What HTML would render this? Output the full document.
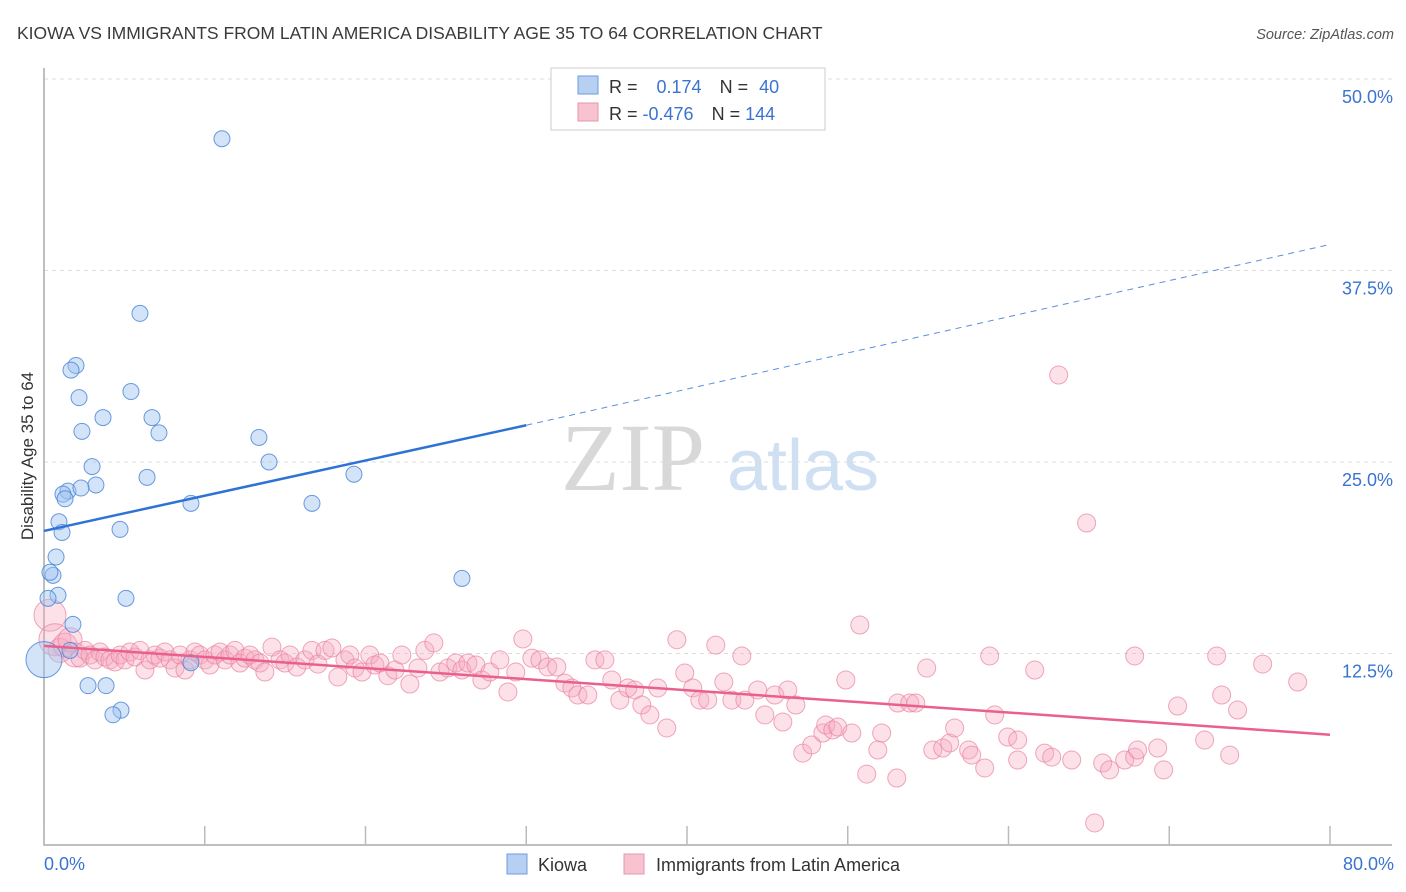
<!DOCTYPE html>
<html><head><meta charset="utf-8">
<style>
body{margin:0;background:#fff;font-family:"Liberation Sans",sans-serif;}
#wrap{position:relative;width:1406px;height:892px;overflow:hidden;}
</style></head>
<body>
<div id="wrap">
<svg id="chart" width="1406" height="892">
<text x="17" y="39" font-size="17.5" fill="#3a3a3a">KIOWA VS IMMIGRANTS FROM LATIN AMERICA DISABILITY AGE 35 TO 64 CORRELATION CHART</text>
<text x="1394" y="39" font-size="14.5" fill="#555" font-style="italic" text-anchor="end">Source: ZipAtlas.com</text>
<g><text x="633" y="490" font-size="96" font-family="Liberation Serif,serif" fill="#d8d8d8" text-anchor="middle">ZIP</text><text x="803" y="490" font-size="72" fill="#cfe0f3" text-anchor="middle">atlas</text></g>
<g id="grid"></g><g id="axes"></g><g id="pts"></g><g id="lines"></g>
<text transform="translate(33,456) rotate(-90)" font-size="17" fill="#333" text-anchor="middle">Disability Age 35 to 64</text>
<g>
<rect x="551" y="68" width="274" height="62" fill="#fff" stroke="#ccc"/>
<rect x="578" y="76" width="20" height="18" fill="#b7d0f2" stroke="#6c9be0"/>
<rect x="578" y="103" width="20" height="18" fill="#f7c3d1" stroke="#ea94ad"/>
<text x="609" y="93" font-size="18" fill="#333">R = <tspan fill="#3a74d0" dx="14">0.174</tspan><tspan dx="18" fill="#333">N = </tspan><tspan fill="#3a74d0" dx="6">40</tspan></text>
<text x="609" y="120" font-size="18" fill="#333">R = <tspan fill="#3a74d0">-0.476</tspan><tspan dx="18" fill="#333">N = </tspan><tspan fill="#3a74d0">144</tspan></text>
</g>
<g>
<rect x="507" y="854" width="20" height="20" fill="#b7d0f2" stroke="#6c9be0"/>
<text x="538" y="871" font-size="18" fill="#333">Kiowa</text>
<rect x="624" y="854" width="20" height="20" fill="#f7c3d1" stroke="#ea94ad"/>
<text x="656" y="871" font-size="18" fill="#333">Immigrants from Latin America</text>
</g>
</svg>
</div>
<script>
const yTicks=[12.5,25,37.5,50];
const yTickLabels=["12.5%","25.0%","37.5%","50.0%"];
const xTickVals=[0,10,20,30,40,50,60,70,80];
const kiowaX=[11.07,5.97,1.99,1.68,5.41,2.18,3.67,6.72,2.36,7.15,13.37,14.0,2.99,6.41,19.28,1.49,1.18,3.23,2.3,1.31,9.14,16.67,0.93,4.73,1.12,0.75,0.56,0.37,0.87,0.25,5.1,26.0,1.8,1.62,2.74,3.86,4.79,4.29,9.14,0];
const kiowaY=[46.1,34.7,31.3,31.0,29.6,29.2,27.9,27.9,27.0,26.9,26.6,25.0,24.7,24.0,24.2,23.1,22.9,23.5,23.3,22.6,22.3,22.3,21.1,20.6,20.4,18.8,17.6,17.8,16.3,16.1,16.1,17.4,14.4,12.7,10.4,10.4,8.8,8.5,11.9,12.1];
const latinX=[0.37,0.68,1.0,1.31,1.62,1.93,2.24,2.55,2.86,3.17,3.48,3.79,4.1,4.42,4.73,5.04,5.35,5.66,5.97,6.28,6.59,6.9,7.21,7.52,7.84,8.15,8.46,8.77,9.08,9.39,9.7,10.01,10.32,10.63,10.95,11.26,11.57,11.88,12.19,12.5,12.81,13.12,13.43,13.74,14.18,14.68,14.99,15.3,15.73,16.23,16.67,17.04,17.48,17.91,18.28,18.72,19.03,19.34,19.78,20.27,20.58,20.9,21.39,21.83,22.26,22.76,23.26,23.69,24.25,24.63,25.12,25.62,26.0,26.37,26.87,27.24,27.74,28.36,28.86,29.35,29.79,30.35,30.85,31.34,31.9,32.4,32.84,33.21,33.83,34.27,34.89,35.32,35.82,36.32,36.75,37.19,37.69,38.18,38.74,39.37,39.86,40.36,40.8,41.29,41.79,42.29,42.79,43.41,43.6,44.4,44.84,45.46,45.96,46.27,46.77,47.2,47.76,48.45,48.63,49.07,49.38,49.88,50.25,50.75,51.18,51.87,52.11,53.05,53.11,53.86,54.23,54.91,55.29,55.91,56.34,56.65,57.52,57.71,58.52,58.83,59.14,59.95,60.57,60.57,61.63,62.25,62.69,63.12,63.93,64.86,65.36,65.86,66.29,67.23,67.85,68.03,67.85,69.28,69.65,70.52,72.2,72.95,73.26,73.76,74.25,75.81,77.99];
const latinY=[15.0,13.4,12.7,13.05,13.4,12.4,12.2,12.7,12.4,12.08,12.6,12.27,12.08,11.95,12.4,12.08,12.6,12.27,12.7,11.42,12.08,12.4,12.2,12.6,12.08,11.55,12.4,11.42,12.08,12.6,12.4,12.08,11.75,12.4,12.6,12.08,12.4,12.7,11.88,12.2,12.4,12.08,11.88,11.29,12.92,12.08,11.88,12.4,11.62,12.08,12.7,11.81,12.7,12.86,10.97,12.08,12.4,11.55,11.29,12.4,11.75,11.88,11.05,11.42,12.4,10.51,11.55,12.7,13.19,11.29,11.55,11.88,11.42,11.88,11.75,10.77,11.29,12.08,9.99,11.29,13.45,12.2,12.08,11.62,11.62,10.57,10.25,9.79,9.79,12.08,12.08,10.77,9.46,10.25,10.12,9.14,8.49,10.25,7.64,13.4,11.23,10.25,9.46,9.46,13.05,10.64,9.46,12.34,9.46,10.12,8.49,9.79,8.03,10.12,9.14,6.0,6.53,7.31,7.83,7.51,7.7,10.77,7.31,14.36,4.63,6.2,7.31,4.37,9.27,9.27,9.27,11.55,6.2,6.33,6.66,7.64,6.2,5.87,5.03,12.34,8.49,7.05,5.55,6.85,11.42,6.0,5.74,30.68,5.55,21.02,1.44,5.35,4.9,5.55,5.74,6.2,12.34,6.33,4.9,9.07,6.85,12.34,9.79,5.87,8.81,11.81,10.64];
const kiowaTrend=[[0,20.5],[30,27.4],[80,39.2]];
const latinTrend=[[0,13.0],[80,7.2]];
const NS='http://www.w3.org/2000/svg';
const X0=44,X1=1330,Y0=845,PPU=15.32;
const xs=v=>X0+(v/80)*(X1-X0);
const ys=v=>Y0-v*PPU;
function mk(tag,attrs,parent){const e=document.createElementNS(NS,tag);for(const k in attrs)e.setAttribute(k,attrs[k]);parent.appendChild(e);return e;}
const grid=document.getElementById('grid'),axes=document.getElementById('axes'),pts=document.getElementById('pts'),lines=document.getElementById('lines');
yTicks.forEach((t,i)=>{
 const l=mk('line',{x1:X0,x2:1392,y1:ys(t),y2:ys(t),stroke:'#ddd','stroke-dasharray':'4,4'},grid);
 
 
 const tx=mk('text',{x:1393,y:ys(t)+24,'font-size':18,fill:'#3a74d0','text-anchor':'end'},axes);
 tx.textContent=yTickLabels[i];
 
 
});
const ax=mk('path',{d:`M${X0},68 V${Y0} H1392`,fill:'none',stroke:'#aaa','stroke-width':1.5},axes);


xTickVals.forEach(v=>{
 const t=mk('line',{x1:xs(v),x2:xs(v),y1:826,y2:Y0,stroke:'#bbb','stroke-width':1.5},axes);
 
 
});
const xl0=mk('text',{x:44,y:870,'font-size':18,fill:'#3a74d0'},axes);xl0.textContent='0.0%';


const xl1=mk('text',{x:1394,y:870,'font-size':18,fill:'#3a74d0','text-anchor':'end'},axes);xl1.textContent='80.0%';


latinX.forEach((x,i)=>{
 const r=(i<2)?16:(i<6?12:9);
 const c=mk('circle',{cx:xs(x),cy:ys(latinY[i]),r:r,fill:'rgba(246,170,192,0.35)',stroke:'rgba(234,130,160,0.7)','stroke-width':1},pts);
 
 
});
kiowaX.forEach((x,i)=>{
 const r=(i===kiowaX.length-1)?18:8;
 const c=mk('circle',{cx:xs(x),cy:ys(kiowaY[i]),r:r,fill:'rgba(160,195,240,0.45)',stroke:'rgba(70,130,215,0.8)','stroke-width':1},pts);
 
 
});
const ks=mk('line',{x1:xs(kiowaTrend[0][0]),y1:ys(kiowaTrend[0][1]),x2:xs(kiowaTrend[1][0]),y2:ys(kiowaTrend[1][1]),stroke:'#2f72d6','stroke-width':2.5},lines);


const kd=mk('line',{x1:xs(kiowaTrend[1][0]),y1:ys(kiowaTrend[1][1]),x2:xs(kiowaTrend[2][0]),y2:ys(kiowaTrend[2][1]),stroke:'#5b8fdc','stroke-width':1,'stroke-dasharray':'6,5'},lines);


const lt=mk('line',{x1:xs(latinTrend[0][0]),y1:ys(latinTrend[0][1]),x2:xs(latinTrend[1][0]),y2:ys(latinTrend[1][1]),stroke:'#e9608d','stroke-width':2.5},lines);


</script>
</body></html>
